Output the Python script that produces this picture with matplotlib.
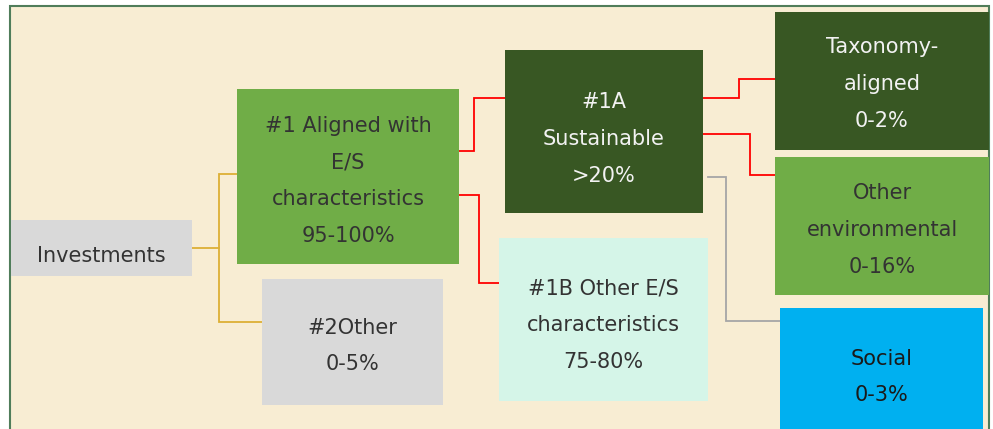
import matplotlib.pyplot as plt
from matplotlib.patches import Rectangle

# box labels
labels = [
    "Investments",
    "#1 Aligned with\nE/S\ncharacteristics\n95-100%",
    "#2Other\n0-5%",
    "#1A\nSustainable\n>20%",
    "#1B Other E/S\ncharacteristics\n75-80%",
    "Taxonomy-\naligned\n0-2%",
    "Other\nenvironmental\n0-16%",
    "Social\n0-3%",
]

# box geometry in pixels: x0, y0, x1, y1
boxes = [
    (11, 220, 192, 276),
    (237, 89, 459, 264),
    (262, 279, 443, 405),
    (505, 50, 703, 213),
    (499, 238, 708, 401),
    (775, 12, 989, 150),
    (775, 157, 989, 295),
    (780, 308, 983, 440),
]
fills = ["#D9D9D9", "#70AD47", "#D9D9D9", "#385723", "#D5F5E8",
         "#385723", "#70AD47", "#00B0F0"]
txt_colors = ["#333333", "#333333", "#333333", "#F2F2F2", "#333333",
              "#F2F2F2", "#333333", "#1A1A1A"]
# text centre (y) where it differs from box centre
text_y = [256, 181, 346, 139, 325, 84, 230, 377]

# elbow connectors
connectors = [
    ([192, 219, 219, 237], [248, 248, 174, 174], "#DDB035"),
    ([219, 219, 262], [248, 322, 322], "#DDB035"),
    ([459, 474, 474, 505], [151, 151, 98, 98], "#FF0000"),
    ([459, 479, 479, 499], [195, 195, 283, 283], "#FF0000"),
    ([703, 739, 739, 775], [98, 98, 79, 79], "#FF0000"),
    ([703, 750, 750, 775], [134, 134, 175, 175], "#FF0000"),
    ([708, 726, 726, 780], [177, 177, 321, 321], "#A6A6A6"),
]

fig = plt.figure(figsize=(9.93, 4.29), dpi=100)
ax = fig.add_axes([0, 0, 1, 1])
ax.set_xlim(0, 993)
ax.set_ylim(429, 0)
ax.axis("off")

# background panel with green frame
ax.add_patch(Rectangle((10, 6), 979, 440, facecolor="#F8EDD3",
                       edgecolor="#507D5A", linewidth=1.5))

for xs, ys, c in connectors:
    ax.plot(xs, ys, color=c, linewidth=1.3, solid_joinstyle="miter")

for i, (x0, y0, x1, y1) in enumerate(boxes):
    ax.add_patch(Rectangle((x0, y0), x1 - x0, y1 - y0, facecolor=fills[i],
                           edgecolor="none", zorder=3))
    ax.text((x0 + x1) / 2, text_y[i], labels[i], ha="center", va="center",
            color=txt_colors[i], fontsize=15, family="DejaVu Sans",
            linespacing=2.06, zorder=4)

fig.savefig("out.png", dpi=100)
